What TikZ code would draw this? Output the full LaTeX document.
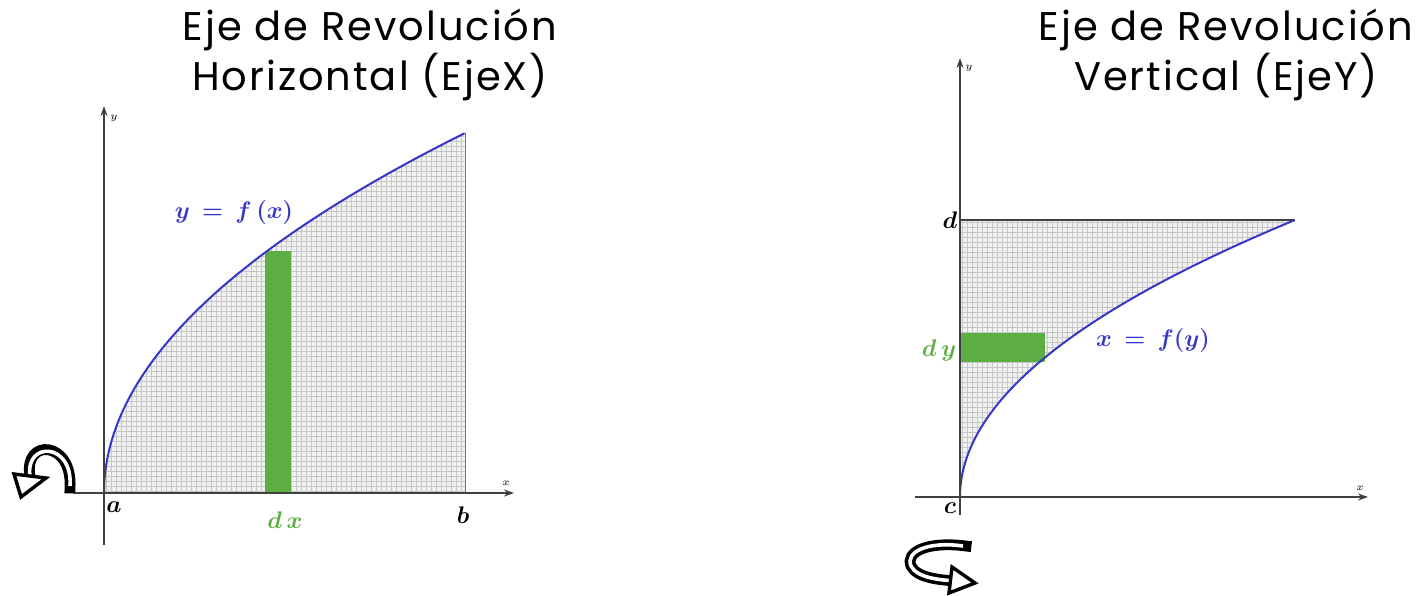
\documentclass[tikz,border=0pt]{standalone}
\usepackage{fontspec}
\setsansfont{Poppins}[LetterSpace=5]
\usetikzlibrary{arrows.meta,positioning,calc}
\definecolor{crvblue}{HTML}{3636C8}
\definecolor{stripgreen}{HTML}{5CAE43}
\definecolor{hatch}{HTML}{C6C6C6}
\definecolor{areafill}{HTML}{F1F1F1}
\definecolor{axis}{HTML}{404040}

\begin{document}
\begin{tikzpicture}[
  x=0.5pt,y=-0.5pt,
  ttl/.style={font=\sffamily\fontsize{20}{25}\selectfont,align=center,inner sep=0pt},
  ax/.style={-{Stealth[length=5pt,width=3.5pt]},draw=axis,line width=0.6pt},
  crv/.style={draw=crvblue,line width=1pt},
  hl/.style={draw=hatch,line width=0.35pt},
  strip/.style={fill=stripgreen,draw=none},
  pt/.style={font=\large\boldmath,inner sep=1pt},
  sm/.style={font=\tiny,inner sep=0pt},
  rotout/.style={line width=5.4pt,line cap=rect},
  rotin/.style={line width=1.8pt,white},
  rothead/.style={fill=white,draw=black,line width=1.7pt,line join=miter}]
\useasboundingbox (0,0) rectangle (1419,595);

% titles
\node[ttl] (tleft)  at (370,55)  {Eje de Revolución\\Horizontal (EjeX)};
\node[ttl] (tright) at (1226,55) {Eje de Revolución\\Vertical (EjeY)};

% ---- left: y = f(x) about the x axis
\begin{scope}
  \clip (104,493) -- plot[domain=0:1,samples=60,variable=\t] ({104+361*\t*\t},{493-360*\t}) -- (465,493) -- cycle;
  \fill[areafill] (104,130) rectangle (466,493);
  \foreach \gx in {106,111,...,466} \draw[hl] (\gx,130) -- (\gx,493);
  \foreach \gy in {491,486,...,130} \draw[hl] (104,\gy) -- (466,\gy);
\end{scope}
\fill[strip] (265,251) rectangle (291,493);
\draw[hatch!60!black,line width=0.5pt] (465,133) -- (465,493);
\draw[crv] plot[domain=0:1,samples=80,variable=\t] ({104+361*\t*\t},{493-360*\t});
\coordinate (xl0) at (75,493);  \coordinate (xl1) at (514,493);
\coordinate (yl0) at (104,545); \coordinate (yl1) at (104,106);
\draw[ax] (xl0) -- (xl1);
\draw[ax] (yl0) -- (yl1);
\node[sm] (lx) at (506,483) {$x$};
\node[sm] (ly) at (114,118) {$y$};
\node[pt] (la) at (114,507) {$a$};
\node[pt] (lb) at (463,515) {$b$};
\node[pt,text=stripgreen] (ldx) at (285,520) {$d\,x$};
\node[pt,text=crvblue] (lfx) at (234,212) {$y\,=\,f\,(x)$};

% left turn arrow
\draw[rotout] (70,488) .. controls (73,440) and (23,438) .. (30,476);
\draw[rotin]  (70,486) .. controls (73,442) and (25,441) .. (30,476);
\filldraw[rothead] (14,474) -- (46,478) -- (21,497) -- cycle;

% ---- right: x = f(y) about the y axis
\begin{scope}
  \clip (960,497) -- plot[domain=0:1,samples=60,variable=\t] ({960+335*\t*\t},{497-277*\t}) -- (960,220) -- cycle;
  \fill[areafill] (960,220) rectangle (1296,497);
  \foreach \gx in {962,967,...,1296} \draw[hl] (\gx,220) -- (\gx,497);
  \foreach \gy in {222,227,...,497} \draw[hl] (960,\gy) -- (1296,\gy);
\end{scope}
\fill[strip] (960,333) rectangle (1045,362);
\draw[axis,line width=0.6pt] (960,220) -- (1295,220);
\draw[crv] plot[domain=0:1,samples=80,variable=\t] ({960+335*\t*\t},{497-277*\t});
\coordinate (xr0) at (915,497);  \coordinate (xr1) at (1368,497);
\coordinate (yr0) at (960,515);  \coordinate (yr1) at (960,58);
\draw[ax] (xr0) -- (xr1);
\draw[ax] (yr0) -- (yr1);
\node[sm] (rx) at (1360,488) {$x$};
\node[sm] (ry) at (969,68) {$y$};
\node[pt] (rc) at (950,508) {$c$};
\node[pt] (rd) at (950,220) {$d$};
\node[pt,text=stripgreen] (rdy) at (939,350) {$d\,y$};
\node[pt,text=crvblue] (rfy) at (1153,340) {$x\,=\,f(y)$};

% right turn arrow
\draw[rotout] (966,546) .. controls (927,541) and (905,552) .. (911,566) .. controls (917,578) and (940,580) .. (956,581);
\draw[rotin]  (963,546) .. controls (927,541) and (905,552) .. (911,566) .. controls (917,578) and (940,580) .. (956,581);
\filldraw[rothead] (952,567) -- (949,593) -- (975,583) -- cycle;
\end{tikzpicture}
\end{document}
